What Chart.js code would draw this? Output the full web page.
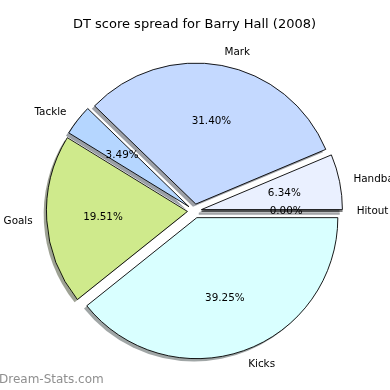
<!DOCTYPE html>
<html>
<head>
<meta charset="utf-8">
<script src="https://cdn.jsdelivr.net/npm/chart.js@4"></script>
<style>
html,body{margin:0;padding:0;background:#fff;}
#wrap{position:relative;width:390px;height:390px;}
</style>
</head>
<body>
<div id="wrap"><canvas id="c" width="390" height="390"></canvas></div>
<script>
// Data (matplotlib order: counter-clockwise from east)
const categories = ['Hitout', 'Handball', 'Mark', 'Tackle', 'Goals', 'Kicks'];
const percentages = [0.00, 6.34, 31.40, 3.49, 19.51, 39.25];
const sliceColors = ['#EAF0FF', '#EAF0FF', '#C4D9FF', '#B5D6FF', '#CFEA8C', '#D9FFFF'];
const chartTitle = 'DT score spread for Barry Hall (2008)';
const watermark = 'Dream-Stats.com';

// Chart.js goes clockwise, so reverse to mimic counter-clockwise drawing
const labelsCW = categories.slice().reverse();
const valuesCW = percentages.slice().reverse();
const colorsCW = sliceColors.slice().reverse();

const EXPLODE = 0.05;      // fraction of radius
const LABEL_DIST = 1.1;
const PCT_DIST = 0.6;
const SHADOW_DX = -2.8, SHADOW_DY = 2.8;
const FONT = '"DejaVu Sans", sans-serif';

function hexToRgb(h){h=h.replace('#','');return [parseInt(h.substr(0,2),16),parseInt(h.substr(2,2),16),parseInt(h.substr(4,2),16)];}

const explodePlugin = {
  id: 'explode',
  afterDatasetUpdate(chart, args) {
    const meta = chart.getDatasetMeta(args.index);
    meta.data.forEach(el => {
      if (el._baseX === undefined) { el._baseX = el.x; el._baseY = el.y; }
      const mid = (el.startAngle + el.endAngle) / 2;
      const r = el.outerRadius;
      el.x = el._baseX + Math.cos(mid) * EXPLODE * r;
      el.y = el._baseY + Math.sin(mid) * EXPLODE * r;
    });
  }
};

function arcPath(ctx, el, dx, dy) {
  ctx.beginPath();
  ctx.moveTo(el.x + dx, el.y + dy);
  ctx.arc(el.x + dx, el.y + dy, el.outerRadius, el.startAngle, el.endAngle);
  ctx.closePath();
}

const shadowPlugin = {
  id: 'shadow',
  beforeDatasetsDraw(chart) {
    const ctx = chart.ctx;
    const meta = chart.getDatasetMeta(0);
    ctx.save();
    meta.data.forEach((el, i) => {
      const c = hexToRgb(colorsCW[i]);
      const col = 'rgba(' + Math.round(c[0]*0.3) + ',' + Math.round(c[1]*0.3) + ',' + Math.round(c[2]*0.3) + ',0.5)';
      if (el.endAngle - el.startAngle === 0) {
        ctx.strokeStyle = col; ctx.lineWidth = 2;
        ctx.beginPath();
        ctx.moveTo(el.x + SHADOW_DX, el.y + SHADOW_DY);
        ctx.lineTo(el.x + SHADOW_DX + Math.cos(el.startAngle)*el.outerRadius, el.y + SHADOW_DY + Math.sin(el.startAngle)*el.outerRadius);
        ctx.stroke();
      } else {
        ctx.fillStyle = col;
        arcPath(ctx, el, SHADOW_DX, SHADOW_DY);
        ctx.fill();
      }
    });
    ctx.restore();
  },
  afterDatasetsDraw(chart) {
    const ctx = chart.ctx;
    const meta = chart.getDatasetMeta(0);
    ctx.save();
    // zero-size wedges are drawn as a line
    meta.data.forEach((el, i) => {
      if (el.endAngle - el.startAngle === 0) {
        ctx.strokeStyle = '#000'; ctx.lineWidth = 1;
        ctx.beginPath();
        ctx.moveTo(el.x, el.y);
        ctx.lineTo(el.x + Math.cos(el.startAngle)*el.outerRadius, el.y + Math.sin(el.startAngle)*el.outerRadius);
        ctx.stroke();
      }
    });
    ctx.fillStyle = '#000';
    ctx.font = '10.4px ' + FONT;
    ctx.textBaseline = 'middle';
    meta.data.forEach((el, i) => {
      const mid = (el.startAngle + el.endAngle) / 2;
      const r = el.outerRadius;
      const cx = Math.cos(mid), cy = Math.sin(mid);
      // label
      const lx = el.x + cx * LABEL_DIST * r, ly = el.y + cy * LABEL_DIST * r;
      ctx.textAlign = cx >= 0 ? 'left' : 'right';
      ctx.fillText(labelsCW[i], lx, ly + 0.5);
      // percentage
      ctx.textAlign = 'center';
      ctx.fillText(valuesCW[i].toFixed(2) + '%', el.x + cx * PCT_DIST * r, el.y + cy * PCT_DIST * r + 0.5);
    });
    // title
    ctx.font = '13px ' + FONT;
    ctx.textAlign = 'center';
    ctx.fillText(chartTitle, 194.5, 25);
    // watermark
    ctx.font = '12px ' + FONT;
    ctx.textAlign = 'left';
    ctx.fillStyle = '#8f8f8f';
    ctx.fillText(watermark, -1, 380);
    ctx.restore();
  }
};

new Chart(document.getElementById('c'), {
  type: 'pie',
  data: {
    labels: labelsCW,
    datasets: [{
      data: valuesCW,
      backgroundColor: colorsCW,
      borderColor: '#000000',
      borderWidth: 0.9,
      borderAlign: 'center'
    }]
  },
  options: {
    responsive: false,
    animation: false,
    rotation: 90,
    radius: 141,
    layout: { padding: { left: 40, right: 41, top: 60, bottom: 28 } },
    plugins: {
      legend: { display: false },
      title: { display: false },
      tooltip: { enabled: false }
    }
  },
  plugins: [explodePlugin, shadowPlugin]
});
</script>
</body>
</html>
